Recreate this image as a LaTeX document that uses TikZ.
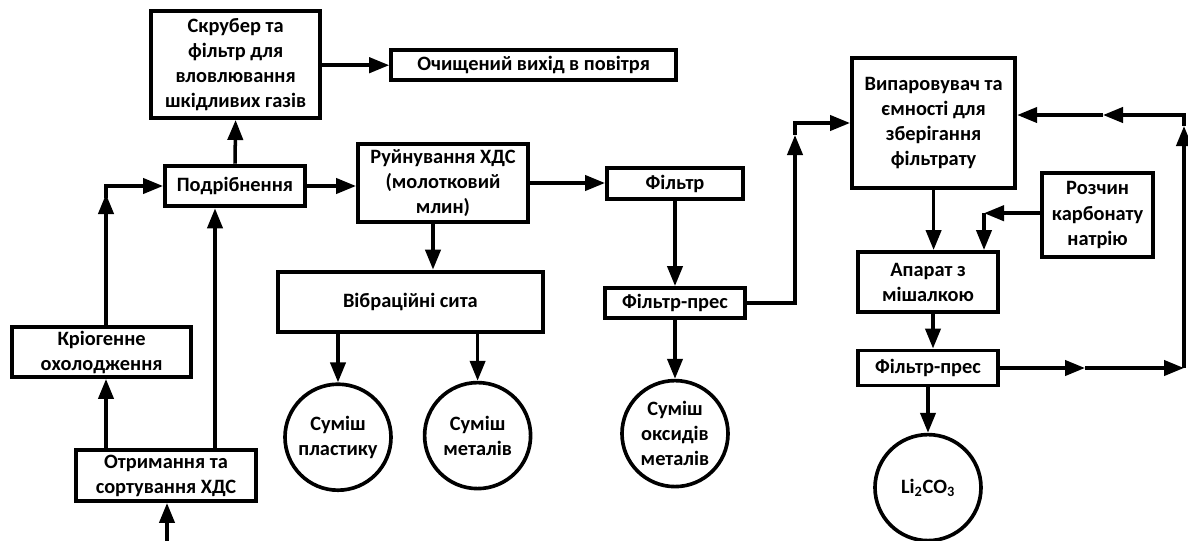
\documentclass[tikz,border=0pt]{standalone}
\usepackage{fontspec}
\setmainfont{Carlito}
\usetikzlibrary{arrows.meta}

\tikzset{
  blok/.style={draw, line width=2.8pt, align=center, inner sep=0pt},
  kolo/.style={draw, circle, line width=2.6pt, align=center, inner sep=0pt, minimum size=2.65cm},
  arr/.style={line width=2.5pt, -{Triangle[length=0.5cm,width=0.38cm]}}
}

\begin{document}
\begin{tikzpicture}[font=\bfseries\fontsize{14.5}{17.8}\selectfont]
\useasboundingbox (0,0) rectangle (29.7,-13.5);

\node[blok, minimum width=4.22cm, minimum height=2.68cm] (scrub) at (5.89,-1.61) {Скрубер та\\фільтр для\\вловлювання\\шкідливих газів};
\node[blok, minimum width=7.12cm, minimum height=0.75cm] (clean) at (13.34,-1.63) {Очищений вихід в повітря};
\node[blok, minimum width=3.5cm, minimum height=1.02cm] (crush) at (5.875,-4.65) {Подрібнення};
\node[blok, minimum width=4.25cm, minimum height=1.95cm] (mill) at (11.075,-4.575) {Руйнування ХДС\\(молотковий\\млин)};
\node[blok, minimum width=3.4cm, minimum height=0.78cm] (filter) at (16.875,-4.59) {Фільтр};
\node[blok, minimum width=6.62cm, minimum height=1.52cm] (sieve) at (10.26,-7.55) {Вібраційні сита};
\node[kolo] (plastic) at (8.45,-10.93) {Суміш\\пластику};
\node[kolo] (metals) at (11.94,-10.89) {Суміш\\металів};
\node[blok, minimum width=3.5cm, minimum height=0.75cm] (press1) at (16.875,-7.575) {Фільтр-прес};
\node[kolo] (oxides) at (16.875,-10.84) {Суміш\\оксидів\\металів};
\node[blok, minimum width=4.08cm, minimum height=3.25cm] (evap) at (23.34,-3.075) {Випаровувач та\\ємності для\\зберігання\\фільтрату};
\node[blok, minimum width=2.78cm, minimum height=2.1cm] (soda) at (27.44,-5.375) {Розчин\\карбонату\\натрію};
\node[blok, minimum width=3.5cm, minimum height=1.5cm] (mixer) at (23.2,-7.05) {Апарат з\\мішалкою};
\node[blok, minimum width=3.5cm, minimum height=0.875cm] (press2) at (23.2,-9.2) {Фільтр-прес};
\node[kolo] (li) at (23.2,-12.19) {Li\textsubscript{2}CO\textsubscript{3}};
\node[blok, minimum width=4.48cm, minimum height=1.25cm] (cryo) at (2.54,-8.8) {Кріогенне\\охолодження};
\node[blok, minimum width=4.5cm, minimum height=1.27cm] (receipt) at (4.15,-11.89) {Отримання та\\сортування ХДС};

\coordinate (src) at (4.175,-13.6);
\coordinate (k1) at (2.65,-4.65);
\coordinate (k2) at (5.375,-5.5);
\coordinate (p2) at (19.875,-3.375);
\coordinate (k5) at (24.6,-5.33);
\coordinate (q1) at (27.125,-9.2);
\coordinate (q2) at (29.6,-9.2);
\coordinate (q3) at (29.6,-3.15);
\coordinate (q4) at (29.6,-2.875);
\coordinate (q5) at (27.575,-2.875);

\draw[arr] (src) -- (receipt.south -| src);
\draw[arr] (receipt.north -| k1) -- (cryo.south -| k1);
\draw[arr] (cryo.north -| k1) -- ([yshift=-0.2cm]k1);
\draw[arr] ([yshift=-0.3cm]k1) -- (k1) -- (crush.west);
\draw[arr] (receipt.north -| k2) -- (crush.south -| k2);
\draw[arr] (crush.north) -- (scrub.south);
\draw[arr] (scrub.east |- clean.west) -- (clean.west);
\draw[arr] (crush.east) -- (mill.west |- crush.east);
\draw[arr] (mill.east) -- (filter.west |- mill.east);
\draw[arr] ([xshift=-0.25cm]mill.south) -- ([xshift=-0.25cm]mill.south |- sieve.north);
\draw[arr] (plastic.north |- sieve.south) -- (plastic.north);
\draw[arr] (metals.north |- sieve.south) -- (metals.north);
\draw[arr] (filter.south) -- (press1.north);
\draw[arr] (press1.south) -- (oxides.north);
\draw[arr] (press1.east) -| (p2);
\draw[arr] (p2) -- (evap.west -| p2) -- (evap.west);
\draw[arr] (evap.south) -- (evap.south |- mixer.north);
\draw[arr] (soda.west |- k5) -- (k5);
\draw[arr] (k5) -- (mixer.north -| k5);
\draw[arr] ([xshift=0.125cm]mixer.south) -- ([xshift=0.125cm]press2.north);
\draw[arr] (press2.south) -- (li.north);
\draw[arr] (press2.east) -- (q1);
\draw[arr] (q1) -- (q2);
\draw[arr] (q2) -- (q3);
\draw[arr] (q3) -- (q4) -- (q5);
\draw[arr] (q5) -- (evap.east |- q5);
\end{tikzpicture}
\end{document}
